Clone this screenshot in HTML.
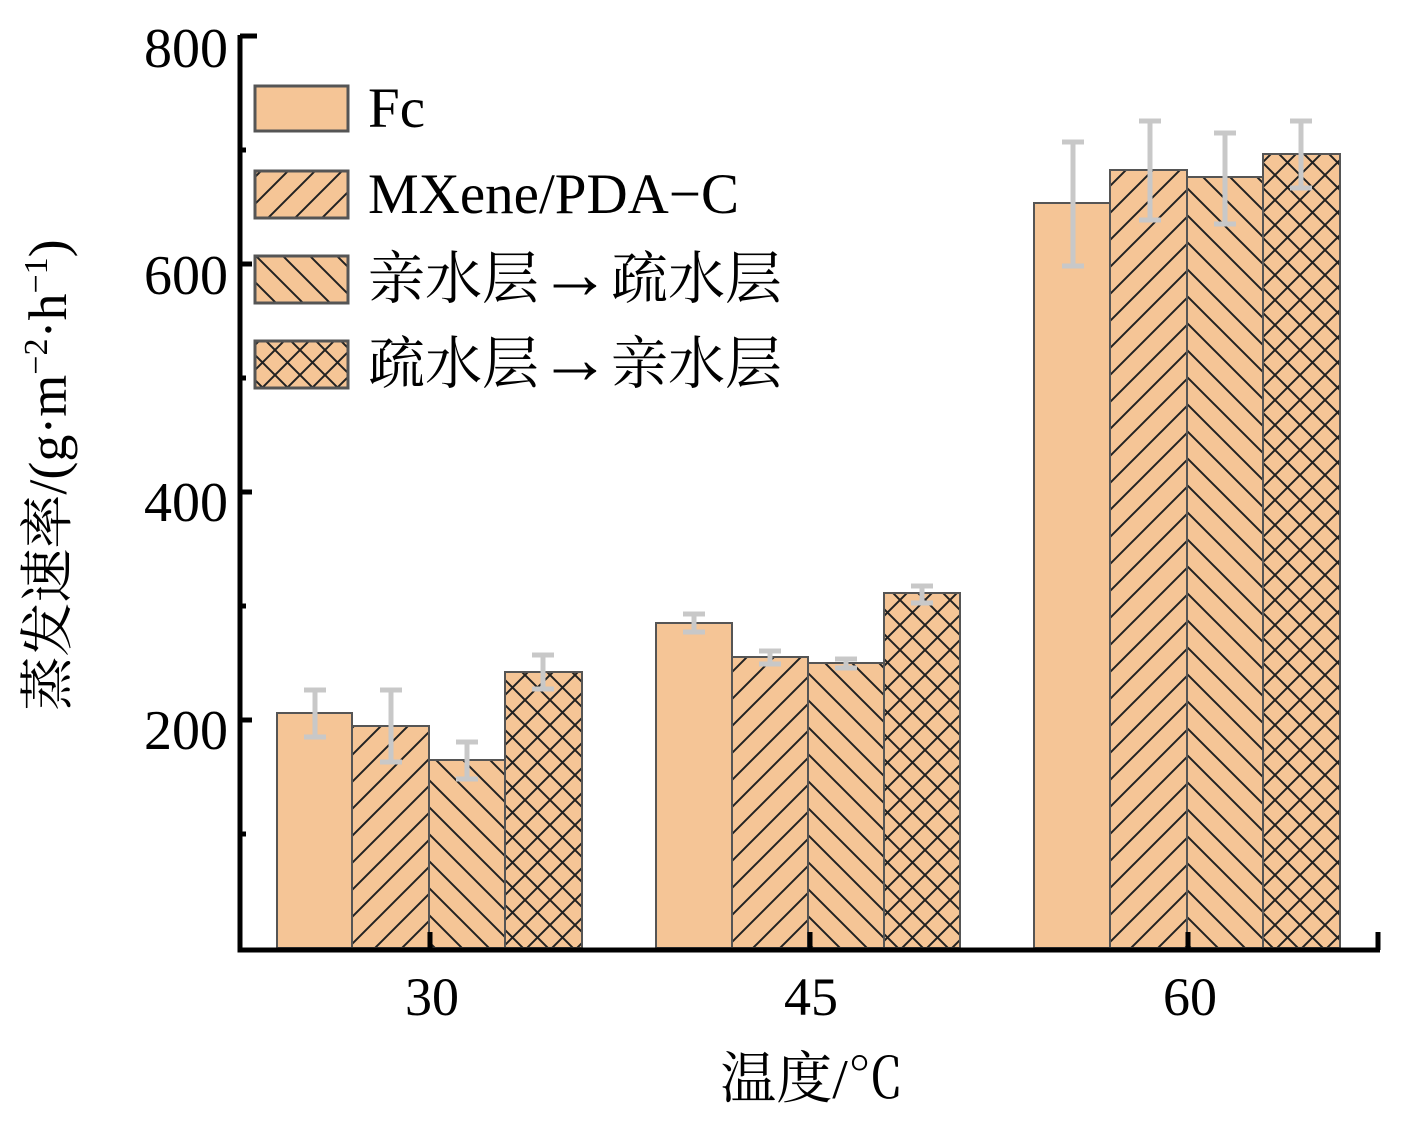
<!DOCTYPE html>
<html><head><meta charset="utf-8"><style>
html,body{margin:0;padding:0;background:#fff}
svg{display:block}
text{font-family:"Liberation Serif","Noto Serif CJK SC",serif;fill:#000}
</style></head><body>
<svg width="1415" height="1121" viewBox="0 0 1415 1121" xmlns="http://www.w3.org/2000/svg">
<defs>
<pattern id="fs" patternUnits="userSpaceOnUse" width="27" height="27">
<rect width="27" height="27" fill="#F5C596"/>
<path d="M-7,7 L7,-7 M0,27 L27,0 M20,34 L34,20" stroke="#222" stroke-width="2"/>
</pattern>
<pattern id="bs" patternUnits="userSpaceOnUse" width="27" height="27">
<rect width="27" height="27" fill="#F5C596"/>
<path d="M-7,20 L7,34 M0,0 L27,27 M20,-7 L34,7" stroke="#222" stroke-width="2"/>
</pattern>
<pattern id="xx" patternUnits="userSpaceOnUse" width="25" height="25">
<rect width="25" height="25" fill="#F5C596"/>
<path d="M-6,6 L6,-6 M0,25 L25,0 M19,31 L31,19 M-6,19 L6,31 M0,0 L25,25 M19,-6 L31,6" stroke="#222" stroke-width="2"/>
</pattern>
</defs>

<g stroke="#555" stroke-width="2">
<rect x="277" y="713" width="75" height="235" fill="#F5C596"/>
<rect x="352" y="726" width="77" height="222" fill="url(#fs)"/>
<rect x="429" y="760" width="76" height="188" fill="url(#bs)"/>
<rect x="505" y="672" width="77" height="276" fill="url(#xx)"/>

<rect x="656" y="623" width="76" height="325" fill="#F5C596"/>
<rect x="732" y="657" width="76" height="291" fill="url(#fs)"/>
<rect x="808" y="663" width="76" height="285" fill="url(#bs)"/>
<rect x="884" y="593" width="76" height="355" fill="url(#xx)"/>

<rect x="1034" y="203" width="76" height="745" fill="#F5C596"/>
<rect x="1110" y="170" width="77" height="778" fill="url(#fs)"/>
<rect x="1187" y="177" width="76" height="771" fill="url(#bs)"/>
<rect x="1263" y="154" width="77" height="794" fill="url(#xx)"/>
</g>

<g stroke="#C8C8C8" stroke-width="5" fill="none">
<path d="M315,690 V737 M304,690 H326 M304,737 H326"/>
<path d="M391,690 V762 M380,690 H402 M380,762 H402"/>
<path d="M467,742 V779 M456,742 H478 M456,779 H478"/>
<path d="M543,655 V689 M532,655 H554 M532,689 H554"/>
<path d="M694,614 V632 M683,614 H705 M683,632 H705"/>
<path d="M770,651 V664 M759,651 H781 M759,664 H781"/>
<path d="M846,659 V668 M835,659 H857 M835,668 H857"/>
<path d="M922,586 V603 M911,586 H933 M911,603 H933"/>
<path d="M1073,142 V266 M1062,142 H1084 M1062,266 H1084"/>
<path d="M1150,121 V220 M1139,121 H1161 M1139,220 H1161"/>
<path d="M1225,133 V224 M1214,133 H1236 M1214,224 H1236"/>
<path d="M1301,121 V188 M1290,121 H1312 M1290,188 H1312"/>
</g>

<g stroke="#000" stroke-width="5" fill="none">
<path d="M240,35 V950 H1380"/>
<path d="M240,36 H257 M240,264 H252 M240,492 H252 M240,720 H252"/>
<path d="M430,950 V932 M810,950 V932 M1188,950 V932 M1378,950 V932"/>
<path d="M240,150 H246 M240,378 H246 M240,606 H246 M240,834 H246"/>
</g>

<g font-size="56" text-anchor="end">
<text x="228" y="67">800</text>
<text x="228" y="294">600</text>
<text x="228" y="521">400</text>
<text x="228" y="749">200</text>
</g>
<g font-size="54" text-anchor="middle">
<text x="432" y="1015">30</text>
<text x="811" y="1015">45</text>
<text x="1190" y="1015">60</text>
</g>
<text x="812" y="1098" font-size="56" text-anchor="middle">温度/℃</text>
<text transform="translate(66,475) rotate(-90)" font-size="54" text-anchor="middle">蒸发速率/(g·m<tspan dy="-19" font-size="34">−2</tspan><tspan dy="19">·h</tspan><tspan dy="-19" font-size="34">−1</tspan><tspan dy="19">)</tspan></text>

<g stroke="#555" stroke-width="3">
<rect x="255" y="86" width="93" height="45" fill="#F5C596"/>
<rect x="255" y="171" width="93" height="47" fill="url(#fs)"/>
<rect x="255" y="256" width="93" height="47" fill="url(#bs)"/>
<rect x="255" y="341" width="93" height="47" fill="url(#xx)"/>
</g>
<g font-size="57">
<text x="368" y="127">Fc</text>
<text x="368" y="213">MXene/PDA−C</text>
<text x="368" y="298">亲水层<tspan font-family="Liberation Sans" font-size="72" font-weight="bold">→</tspan>疏水层</text>
<text x="368" y="383">疏水层<tspan font-family="Liberation Sans" font-size="72" font-weight="bold">→</tspan>亲水层</text>
</g>
</svg>
</body></html>
